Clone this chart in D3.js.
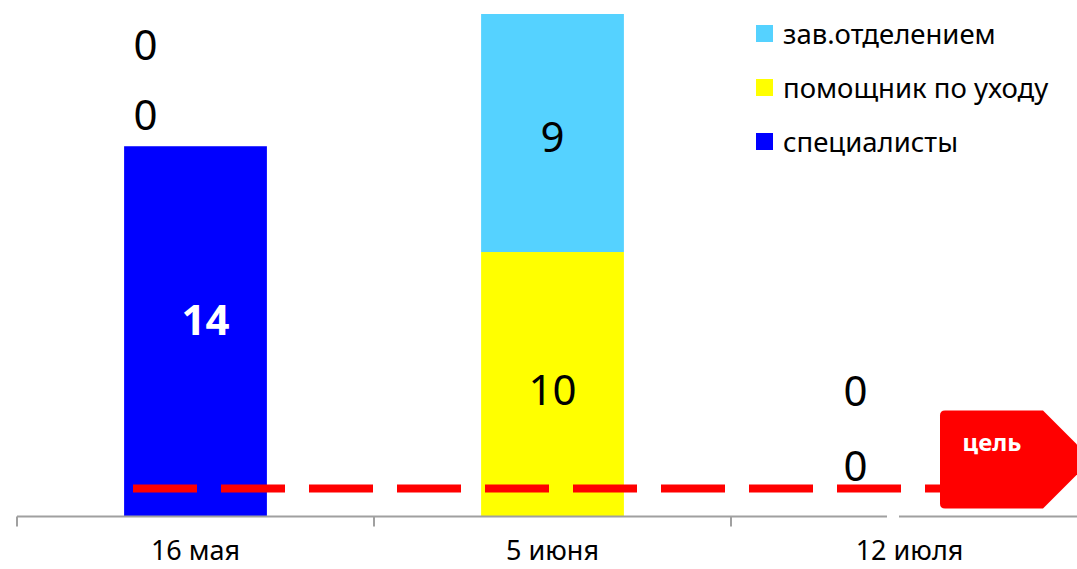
<!DOCTYPE html>
<html>
<head>
<meta charset="utf-8">
<script src="https://cdn.jsdelivr.net/npm/d3@7"></script>
<style>
	body { margin: 0; background: #fff; }
	svg { display: block; font-family: "Noto Sans", sans-serif; }
</style>
</head>
<body>
<svg id="chart"></svg>
<script>
let categories = ['16 мая', '5 июня', '12 июля'];
let seriesNames = ['специалисты', 'помощник по уходу', 'зав.отделением'];
let specialists = [14, 0, 0];
let helpers = [0, 10, 0];
let heads = [0, 9, 0];
let target = 1;
let targetLabel = 'цель';
let colors = ['#0000ff', '#ffff00', '#55d2ff'];

let width = 1077, height = 569;
let axisY = 516.5;

let svg = d3.select('#chart')
	.attr('width', width)
	.attr('height', height);

let xScale = d3.scaleBand()
	.domain(categories)
	.range([17, 1088])
	.padding(0);

let yScale = d3.scaleLinear()
	.domain([0, 19])
	.range([axisY, 14]);

let barWidth = xScale.bandwidth() * 0.4;

// build stack rows from the arrays
let rows = categories.map((c, i) => ({
	cat: c,
	s0: specialists[i],
	s1: helpers[i],
	s2: heads[i]
}));
let stack = d3.stack().keys(['s0', 's1', 's2'])(rows);

// BARS
svg.append('g')
	.selectAll('g')
	.data(stack)
	.join('g')
	.attr('fill', (d, i) => colors[i])
	.selectAll('rect')
	.data(d => d)
	.join('rect')
	.attr('x', d => xScale(d.data.cat) + (xScale.bandwidth() - barWidth) / 2)
	.attr('y', d => yScale(d[1]))
	.attr('width', barWidth)
	.attr('height', d => yScale(d[0]) - yScale(d[1]));

// LABELS (zero labels were moved by hand in the original)
let labelShift = {
	'0-0': [10, -13], '1-0': [-50, -33], '2-0': [-50, -103],
	'1-1': [0, 4], '2-1': [0, 2],
	'1-2': [-54, -52], '2-2': [-54, -127]
};
let labels = [];
stack.forEach((layer, si) => {
	layer.forEach((d, ci) => {
		let key = si + '-' + ci;
		if (!labelShift[key]) return;
		let v = d[1] - d[0];
		let yMid = v > 0 ? yScale((d[0] + d[1]) / 2) : yScale(d[1]);
		labels.push({
			text: v,
			x: xScale(d.data.cat) + xScale.bandwidth() / 2 + labelShift[key][0],
			y: yMid + labelShift[key][1],
			bold: si === 0 && v > 0
		});
	});
});

svg.append('g')
	.selectAll('text')
	.data(labels)
	.join('text')
	.attr('x', d => d.x)
	.attr('y', d => d.y)
	.attr('text-anchor', 'middle')
	.attr('dominant-baseline', 'central')
	.style('font-size', '42px')
	.style('font-weight', d => d.bold ? 'bold' : 'normal')
	.attr('fill', d => d.bold ? '#fff' : '#000')
	.text(d => d.text);

// TARGET LINE
let ty = yScale(target) - 1.5;
svg.append('line')
	.attr('x1', 133)
	.attr('x2', 945)
	.attr('y1', ty)
	.attr('y2', ty)
	.attr('stroke', '#ff0000')
	.attr('stroke-width', 8)
	.attr('stroke-dasharray', '64 24');

// AXIS
let xAxis = d3.axisBottom(xScale).tickSize(0).tickPadding(24);
let xAxisGroup = svg.append('g')
	.attr('transform', `translate(0, ${axisY})`)
	.call(xAxis);
xAxisGroup.select('.domain').remove();
xAxisGroup.selectAll('text')
	.style('font-family', '"Noto Sans", sans-serif')
	.style('font-size', '27px')
	.attr('fill', '#000');

svg.append('line')
	.attr('x1', xScale.range()[0])
	.attr('x2', width)
	.attr('y1', axisY)
	.attr('y2', axisY)
	.attr('stroke', '#a0a0a0')
	.attr('stroke-width', 2);

svg.append('g')
	.selectAll('line')
	.data(categories.concat(['end']))
	.join('line')
	.attr('x1', (d, i) => xScale.range()[0] + i * xScale.step())
	.attr('x2', (d, i) => xScale.range()[0] + i * xScale.step())
	.attr('y1', axisY)
	.attr('y2', axisY + 10)
	.attr('stroke', '#a0a0a0')
	.attr('stroke-width', 2);

// small white gap on the axis
svg.append('rect')
	.attr('x', 887)
	.attr('y', axisY - 3)
	.attr('width', 12)
	.attr('height', 6)
	.attr('fill', '#fff');

// TARGET CALLOUT
let cTop = ty - 78, cBot = ty + 20, cLeft = 940, cRight = 1043;
let cMid = (cTop + cBot) / 2;
let r = 5;
let callout = `M${cLeft + r},${cTop} L${cRight},${cTop} L${cRight + (cMid - cTop)},${cMid} ` +
	`L${cRight},${cBot} L${cLeft + r},${cBot} Q${cLeft},${cBot} ${cLeft},${cBot - r} ` +
	`L${cLeft},${cTop + r} Q${cLeft},${cTop} ${cLeft + r},${cTop} Z`;
svg.append('path')
	.attr('d', callout)
	.attr('fill', '#ff0000');
svg.append('text')
	.attr('x', 992)
	.attr('y', cTop + 31)
	.attr('text-anchor', 'middle')
	.attr('dominant-baseline', 'central')
	.style('font-size', '24px')
	.style('font-weight', 'bold')
	.attr('fill', '#fff')
	.text(targetLabel);

// LEGEND (top to bottom: reverse of stack order)
let legendItems = seriesNames.map((n, i) => ({ name: n, color: colors[i] })).reverse();
let legend = svg.append('g')
	.selectAll('g')
	.data(legendItems)
	.join('g')
	.attr('transform', (d, i) => `translate(756, ${25 + i * 54})`);
legend.append('rect')
	.attr('width', 17)
	.attr('height', 17)
	.attr('fill', d => d.color);
legend.append('text')
	.attr('x', 27)
	.attr('y', 8)
	.attr('dominant-baseline', 'central')
	.style('font-size', '27.5px')
	.attr('fill', '#000')
	.text(d => d.name);
</script>
</body>
</html>
